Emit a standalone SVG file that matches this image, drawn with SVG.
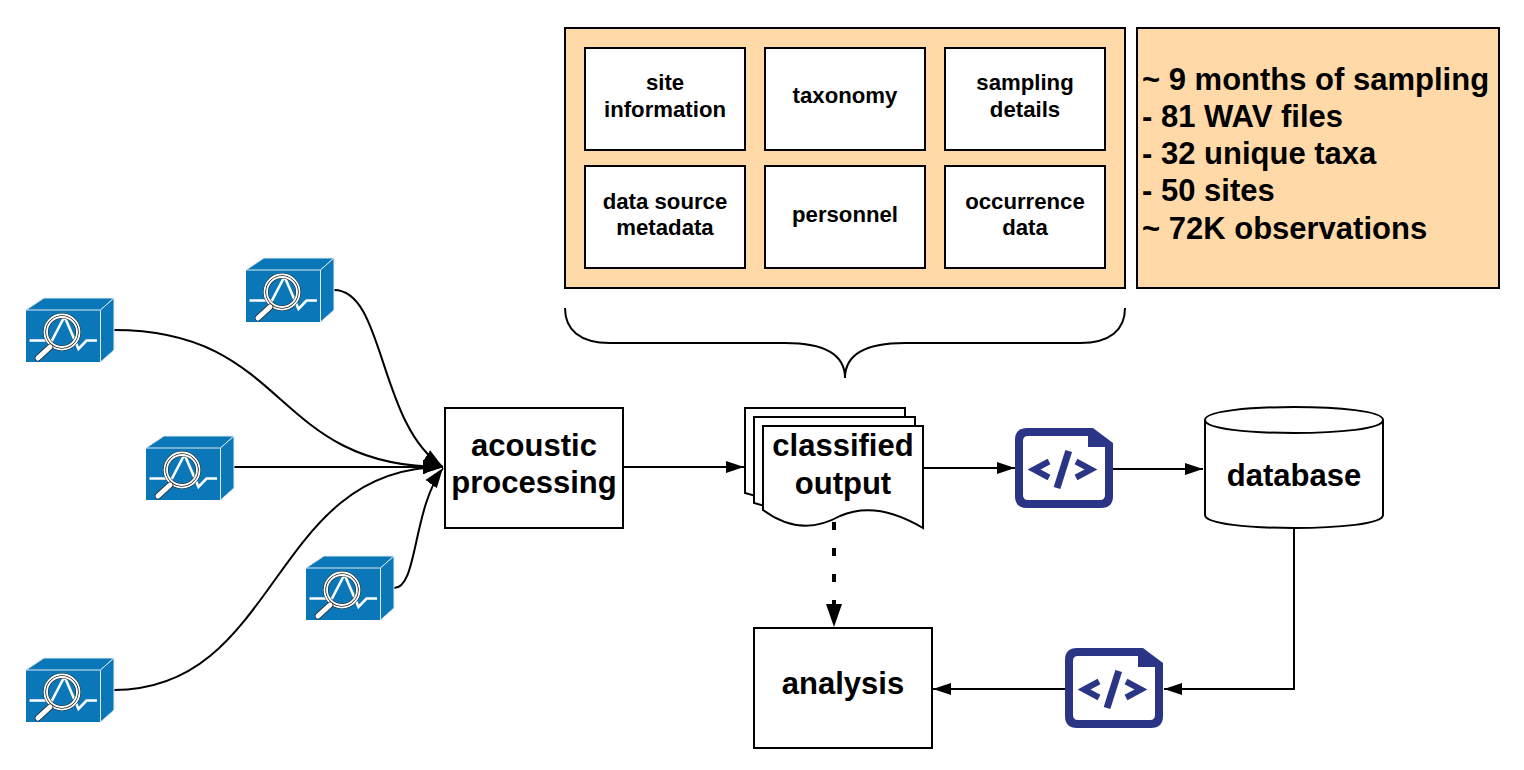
<svg xmlns="http://www.w3.org/2000/svg" width="1524" height="770" viewBox="0 0 1524 770">
<style>
text{font-family:"Liberation Sans",Arial,sans-serif;font-weight:700;fill:#000;text-anchor:middle}
.s{fill:none;stroke:#000;stroke-width:2}
.b{fill:#fff;stroke:#000;stroke-width:2}
.o{fill:#ffd9a8;stroke:#000;stroke-width:2}
.t22{font-size:22.200px}.t30{font-size:31px}
.l{font-size:31px;text-anchor:start}
</style>
<defs>
<marker id="a" markerUnits="userSpaceOnUse" markerWidth="20" markerHeight="12" refX="18" refY="6" orient="auto"><path d="M0 0L18 6L0 12z" fill="#000"/></marker>
<marker id="a2" markerUnits="userSpaceOnUse" markerWidth="22" markerHeight="16" refX="20" refY="8" orient="auto"><path d="M0 1L20 8L0 15z" fill="#000"/></marker>
<marker id="a3" markerUnits="userSpaceOnUse" markerWidth="24" markerHeight="16" refX="23" refY="8" orient="auto"><path d="M0 0L23 8L0 16z" fill="#000"/></marker>
<g id="sensor">
<path d="M0 12L18 0H88V52L74.500 64H0z" fill="#0a78b8"/>
<path d="M0 12L18 0H88L74.500 12z" fill="#0a78b8" stroke="#dfeaf2" stroke-width="1"/>
<path d="M74.500 12V64L88 52V0z" fill="#0a78b8" stroke="#dfeaf2" stroke-width="1"/>
<path d="M3.500 42.500H26L38.500 18.500L52.500 51L60.500 42.500H71" fill="none" stroke="#fff" stroke-width="2.600"/>
<circle cx="36" cy="34" r="17.500" fill="none" stroke="#222" stroke-width="2.800"/>
<circle cx="36" cy="34" r="17.500" fill="none" stroke="#fff" stroke-width="1.800"/>
<circle cx="36" cy="34" r="15" fill="none" stroke="#222" stroke-width="2.800"/>
<circle cx="36" cy="34" r="15" fill="none" stroke="#fff" stroke-width="1.800"/>
<path d="M24 49L12 60" stroke="#333" stroke-width="6.500" stroke-linecap="round"/>
<path d="M24 49L12 60" stroke="#fff" stroke-width="5" stroke-linecap="round"/>
</g>
<g id="code">
<path d="M12 0H78L98 15V68Q98 80 86 80H12Q0 80 0 68V12Q0 0 12 0Z" fill="#2b3585"/>
<path d="M13 8H73V19H90V67Q90 72 85 72H13Q8 72 8 67V13Q8 8 13 8Z" fill="#fff"/>
<path d="M34 33.500L19 41.500L34 49.500M61 33.500L76 41.500L61 49.500" fill="none" stroke="#2b3585" stroke-width="6"/>
<path d="M53.700 23L42 60" fill="none" stroke="#2b3585" stroke-width="7"/>
</g>
</defs>

<g id="connectors">
<path class="s" d="M114 330C290 330 270 467 443 467" marker-end="url(#a2)"/>
<path class="s" d="M334 290C385 290 378 425 443 467" marker-end="url(#a2)"/>
<path class="s" d="M234 467H443" marker-end="url(#a2)"/>
<path class="s" d="M394 588C418 588 412 510 443 468" marker-end="url(#a2)"/>
<path class="s" d="M114 690C280 690 270 467 443 467" marker-end="url(#a2)"/>
<path d="M427 473L442 468.500" fill="none" stroke="#fff" stroke-width="1"/>
<path class="s" d="M623 467H744" marker-end="url(#a)"/>
<path class="s" d="M923 468H1015" marker-end="url(#a)"/>
<path class="s" d="M1113 469H1203" marker-end="url(#a)"/>
<path class="s" d="M1294 527V689H1164" marker-end="url(#a)"/>
<path class="s" d="M1065 689H933" marker-end="url(#a)"/>
<path d="M834 522V604" fill="none" stroke="#000" stroke-width="4" stroke-dasharray="8 18"/>
<path d="M834 604V627" fill="none" stroke="none" marker-end="url(#a3)"/>
<path class="s" d="M565 308C565 330 580 343 610 343H785C825 343 845 355 845 378C845 355 865 343 905 343H1080C1110 343 1125 330 1125 308"/>
</g>

<use id="sensor1" href="#sensor" x="26" y="298"/>
<use id="sensor2" href="#sensor" x="246" y="258"/>
<use id="sensor3" href="#sensor" x="146" y="436"/>
<use id="sensor4" href="#sensor" x="306" y="556"/>
<use id="sensor5" href="#sensor" x="26" y="658"/>

<g id="metadata-panel"><rect class="o" x="565" y="28" width="560" height="260"/></g>
<g id="site"><rect class="b" x="585" y="48" width="160" height="102"/><text class="t22" x="665" y="90">site</text><text class="t22" x="665" y="117">information</text></g>
<g id="taxonomy"><rect class="b" x="765" y="48" width="160" height="102"/><text class="t22" x="845" y="103">taxonomy</text></g>
<g id="sampling"><rect class="b" x="945" y="48" width="160" height="102"/><text class="t22" x="1025" y="90">sampling</text><text class="t22" x="1025" y="117">details</text></g>
<g id="source"><rect class="b" x="585" y="166" width="160" height="102"/><text class="t22" x="665" y="209">data source</text><text class="t22" x="665" y="235">metadata</text></g>
<g id="personnel"><rect class="b" x="765" y="166" width="160" height="102"/><text class="t22" x="845" y="222">personnel</text></g>
<g id="occurrence"><rect class="b" x="945" y="166" width="160" height="102"/><text class="t22" x="1025" y="209">occurrence</text><text class="t22" x="1025" y="235">data</text></g>

<g id="summary"><rect class="o" x="1137" y="28" width="362" height="260"/>
<text class="l" x="1142" y="90">~ 9 months of sampling</text>
<text class="l" x="1142" y="127">- 81 WAV files</text>
<text class="l" x="1142" y="164">- 32 unique taxa</text>
<text class="l" x="1142" y="201">- 50 sites</text>
<text class="l" x="1142" y="239">~ 72K observations</text></g>

<g id="acoustic"><rect class="b" x="445" y="408" width="178" height="120"/><text class="t30" x="534" y="456">acoustic</text><text class="t30" x="534" y="493">processing</text></g>

<g id="classified">
<path class="b" d="M745 408H905V500L770 500L745 493Z"/>
<path class="b" d="M754 417H915V510L780 510L754 503Z"/>
<path class="b" d="M763 426H923V528C893 510 865 505 840 516C815 530 790 530 763 510Z"/>
<text class="t30" x="843" y="456">classified</text><text class="t30" x="843" y="494">output</text>
</g>

<use id="code1" href="#code" x="1015" y="428"/>
<use id="code2" href="#code" x="1065" y="648"/>

<g id="database">
<path class="b" d="M1205 420C1205 411 1250 407 1294 407S1383 411 1383 420V515C1383 524 1338 528 1294 528S1205 524 1205 515Z"/>
<path class="s" d="M1205 420C1205 429 1250 433 1294 433S1383 429 1383 420"/>
<text class="t30" x="1294" y="486">database</text>
</g>

<g id="analysis"><rect class="b" x="754" y="628" width="178" height="120"/><text class="t30" x="843" y="694">analysis</text></g>
</svg>
